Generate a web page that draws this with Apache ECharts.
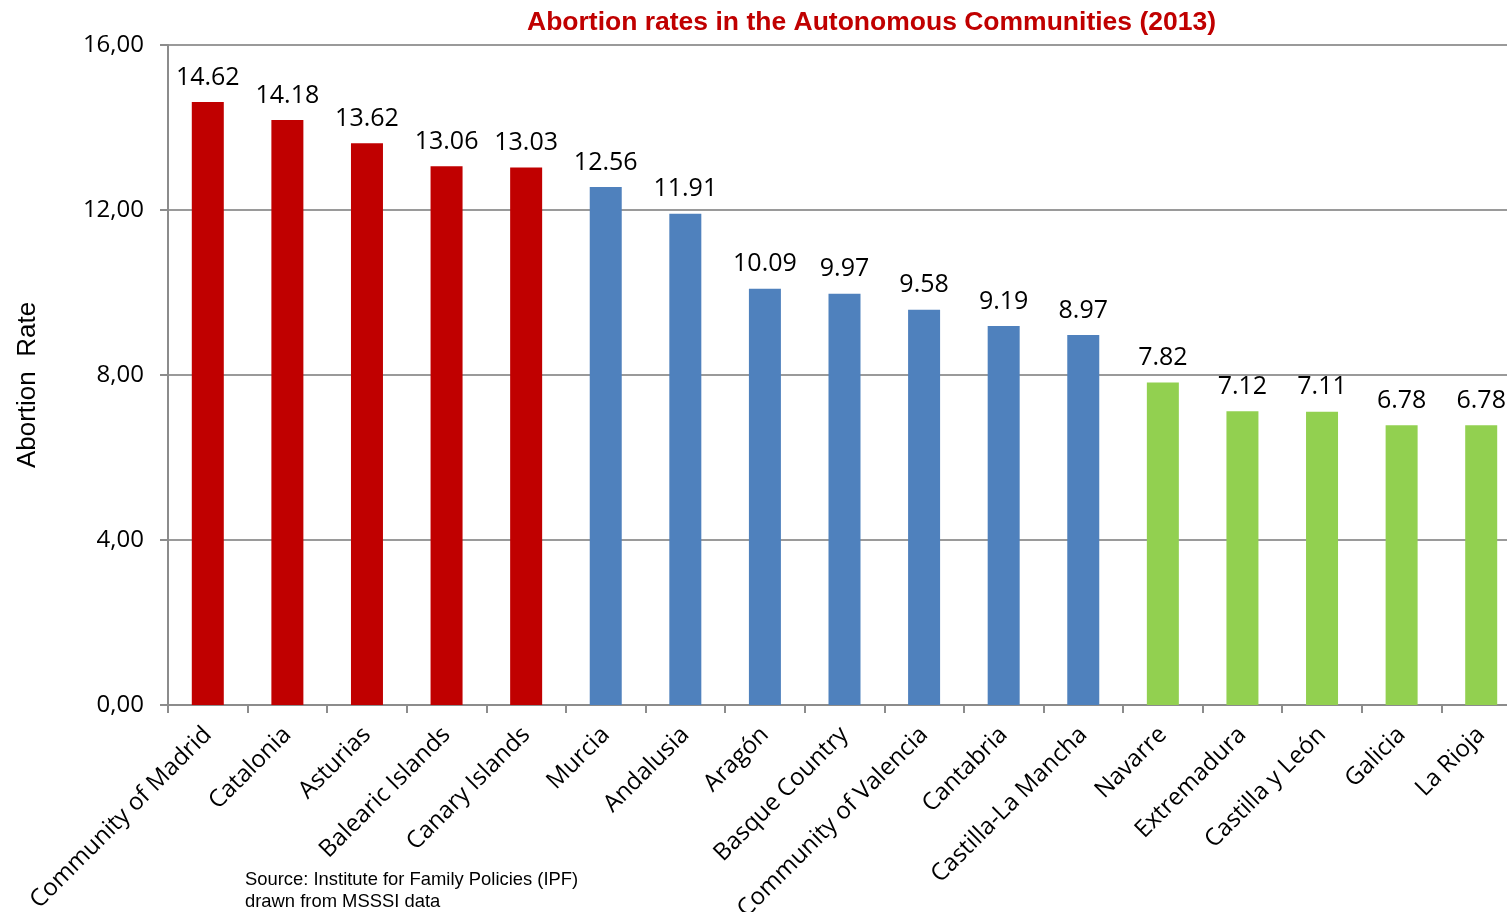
<!DOCTYPE html>
<html><head><meta charset="utf-8">
<script src="https://cdn.jsdelivr.net/npm/echarts@6/dist/echarts.min.js"></script>
<style>html,body{margin:0;padding:0;background:#fff}#c{width:1507px;height:912px}</style>
</head><body><div id="c"></div>
<script>
const categories = ["Community of Madrid","Catalonia","Asturias","Balearic Islands","Canary Islands","Murcia","Andalusia","Aragón","Basque Country","Community of Valencia","Cantabria","Castilla-La Mancha","Navarre","Extremadura","Castilla y León","Galicia","La Rioja"];
const values = [14.62,14.18,13.62,13.06,13.03,12.56,11.91,10.09,9.97,9.58,9.19,8.97,7.82,7.12,7.11,6.78,6.78];
const groups = ["high","high","high","high","high","mid","mid","mid","mid","mid","mid","mid","low","low","low","low","low"];
const groupColors = {high:"#c00000", mid:"#4f81bd", low:"#92d050"};
const yTicks = [0,4,8,12,16];

const chart = echarts.init(document.getElementById('c'));
chart.setOption({
  animation:false,
  backgroundColor:'#fff',
  grid:{left:168, top:45, width:1353, height:660, containLabel:false, outerBoundsMode:'none'},
  xAxis:{
    type:'category', data:categories,
    axisLine:{lineStyle:{color:'#8c8c8c', width:2}},
    axisTick:{show:true, length:8, lineStyle:{color:'#8c8c8c', width:2}},
    axisLabel:{rotate:45, interval:0, margin:26, fontFamily:'Open Sans', fontSize:24, color:'#000'}
  },
  yAxis:{
    type:'value', min:0, max:16, interval:4,
    name:'Abortion  Rate', nameLocation:'middle', nameGap:127,
    nameTextStyle:{fontFamily:'Liberation Sans', fontSize:26, color:'#000', padding:[0,20,0,0]},
    axisLine:{show:true, lineStyle:{color:'#8c8c8c', width:2}},
    axisTick:{show:true, length:8, lineStyle:{color:'#8c8c8c', width:2}},
    splitLine:{lineStyle:{color:'#9a9a9a', width:2}},
    axisLabel:{margin:24, fontFamily:'Open Sans', fontSize:24, color:'#000',
      formatter:v=>v.toFixed(2).replace('.',',')}
  },
  series:[{
    type:'bar', barWidth:32,
    data:values.map((v,i)=>({value:v, itemStyle:{color:groupColors[groups[i]]}})),
    label:{show:true, position:'top', distance:12, fontFamily:'Open Sans', fontSize:25, color:'#000',
      formatter:p=>p.value.toFixed(2)}
  }],
  graphic:[
    {type:'text', left:527, top:9, style:{text:'Abortion rates in the Autonomous Communities (2013)', font:'bold 26.5px "Liberation Sans"', fill:'#c00000'}},
    {type:'text', left:245, top:869, style:{text:'Source: Institute for Family Policies (IPF)\ndrawn from MSSSI data', font:'18.4px "Liberation Sans"', fill:'#000', lineHeight:22}}
  ]
});
</script></body></html>
